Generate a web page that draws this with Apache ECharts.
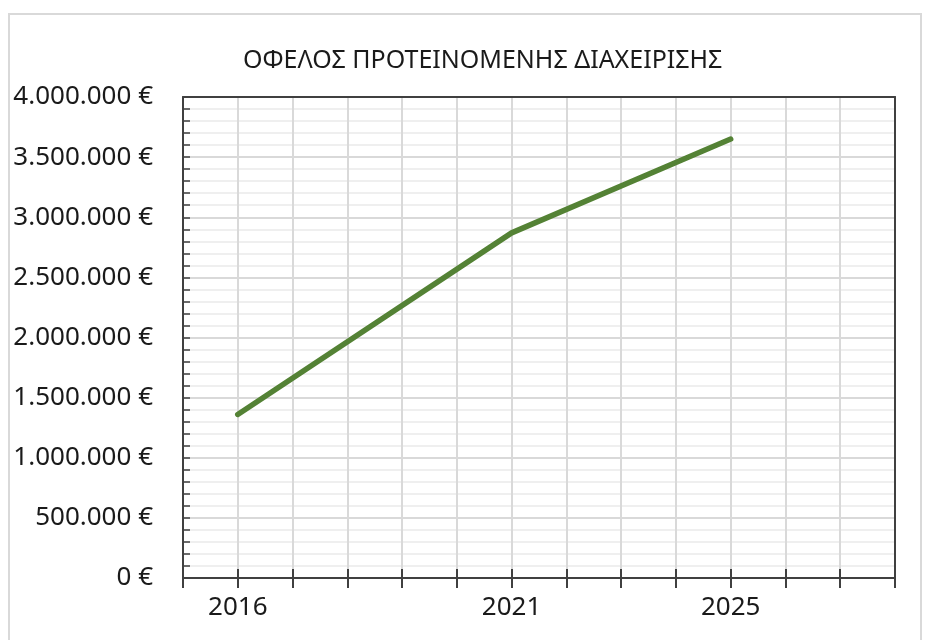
<!DOCTYPE html>
<html>
<head>
<meta charset="utf-8">
<script src="https://cdn.jsdelivr.net/npm/echarts@6/dist/echarts.min.js"></script>
<style>
  html, body { margin: 0; padding: 0; background: #fff; }
  #myCharts { width: 936px; height: 640px; }
</style>
</head>
<body>
<div id="myCharts"></div>
<script>
// τιμές του διαγράμματος
var years = [2016, 2021, 2025];
var benefit = [1360000, 2870000, 3650000];
var xTickLabels = [2016, 2021, 2025];
var yTicks = [0, 500000, 1000000, 1500000, 2000000, 2500000, 3000000, 3500000, 4000000];

var font = 'Noto Sans';

function euro(v) {
  return String(v).replace(/\B(?=(\d{3})+(?!\d))/g, '.') + ' €';
}

var chartDom = document.getElementById('myCharts');
var myChart = echarts.init(chartDom);

var points = years.map(function (y, i) { return [y, benefit[i]]; });

var xBase = {
  type: 'value',
  min: 2015,
  max: 2028,
  interval: 1
};
var dark = { color: '#404040', width: 2 };

var option = {
  animation: false,
  backgroundColor: '#fff',
  title: {
    text: 'ΟΦΕΛΟΣ ΠΡΟΤΕΙΝΟΜΕΝΗΣ ΔΙΑΧΕΙΡΙΣΗΣ',
    left: 238,
    top: 43,
    textStyle: { fontFamily: font, fontSize: 25, fontWeight: 'normal', color: '#1a1a1a' }
  },
  graphic: [{
    type: 'rect',
    shape: { x: 9, y: 14, width: 912, height: 700 },
    style: { fill: 'none', stroke: '#d9d9d9', lineWidth: 2 },
    silent: true
  }],
  grid: {
    left: 183,
    right: 41,
    top: 97,
    bottom: 62
  },
  xAxis: [
    Object.assign({}, xBase, {
      position: 'bottom',
      axisLine: { show: true, lineStyle: dark },
      axisTick: { show: true, inside: false, length: 10, lineStyle: dark },
      axisLabel: {
        margin: 17,
        fontFamily: font,
        fontSize: 26,
        color: '#1a1a1a',
        formatter: function (v) { return xTickLabels.indexOf(v) >= 0 ? String(v) : ''; }
      },
      splitLine: { show: true, lineStyle: { color: '#d9d9d9', width: 2 } }
    }),
    Object.assign({}, xBase, {
      position: 'bottom',
      axisLine: { show: false },
      axisTick: { show: true, inside: true, length: 9, lineStyle: dark },
      axisLabel: { show: false },
      splitLine: { show: false }
    }),
    Object.assign({}, xBase, {
      position: 'top',
      axisLine: { show: true, lineStyle: dark },
      axisTick: { show: false },
      axisLabel: { show: false },
      splitLine: { show: false }
    })
  ],
  yAxis: [{
    type: 'value',
    min: yTicks[0],
    max: yTicks[yTicks.length - 1],
    interval: 500000,
    position: 'left',
    axisLine: { show: true, lineStyle: dark },
    axisTick: { show: true, inside: true, length: 7, lineStyle: { color: '#404040', width: 1.5 } },
    minorTick: { show: true, splitNumber: 5, length: 7, lineStyle: { color: '#404040', width: 1.5 } },
    axisLabel: {
      margin: 30,
      fontFamily: font,
      fontSize: 26,
      color: '#1a1a1a',
      formatter: euro
    },
    splitLine: { show: true, lineStyle: { color: '#d9d9d9', width: 2 } },
    minorSplitLine: { show: true, lineStyle: { color: '#efefef', width: 2 } }
  }, {
    type: 'value',
    min: yTicks[0],
    max: yTicks[yTicks.length - 1],
    interval: 500000,
    position: 'right',
    axisLine: { show: true, lineStyle: dark },
    axisTick: { show: false },
    axisLabel: { show: false },
    splitLine: { show: false }
  }],
  series: [{
    name: 'ΟΦΕΛΟΣ',
    type: 'line',
    xAxisIndex: 0,
    yAxisIndex: 0,
    data: points,
    showSymbol: false,
    lineStyle: { color: '#548235', width: 5.5, cap: 'round', join: 'round' }
  }]
};

option && myChart.setOption(option);
</script>
</body>
</html>
